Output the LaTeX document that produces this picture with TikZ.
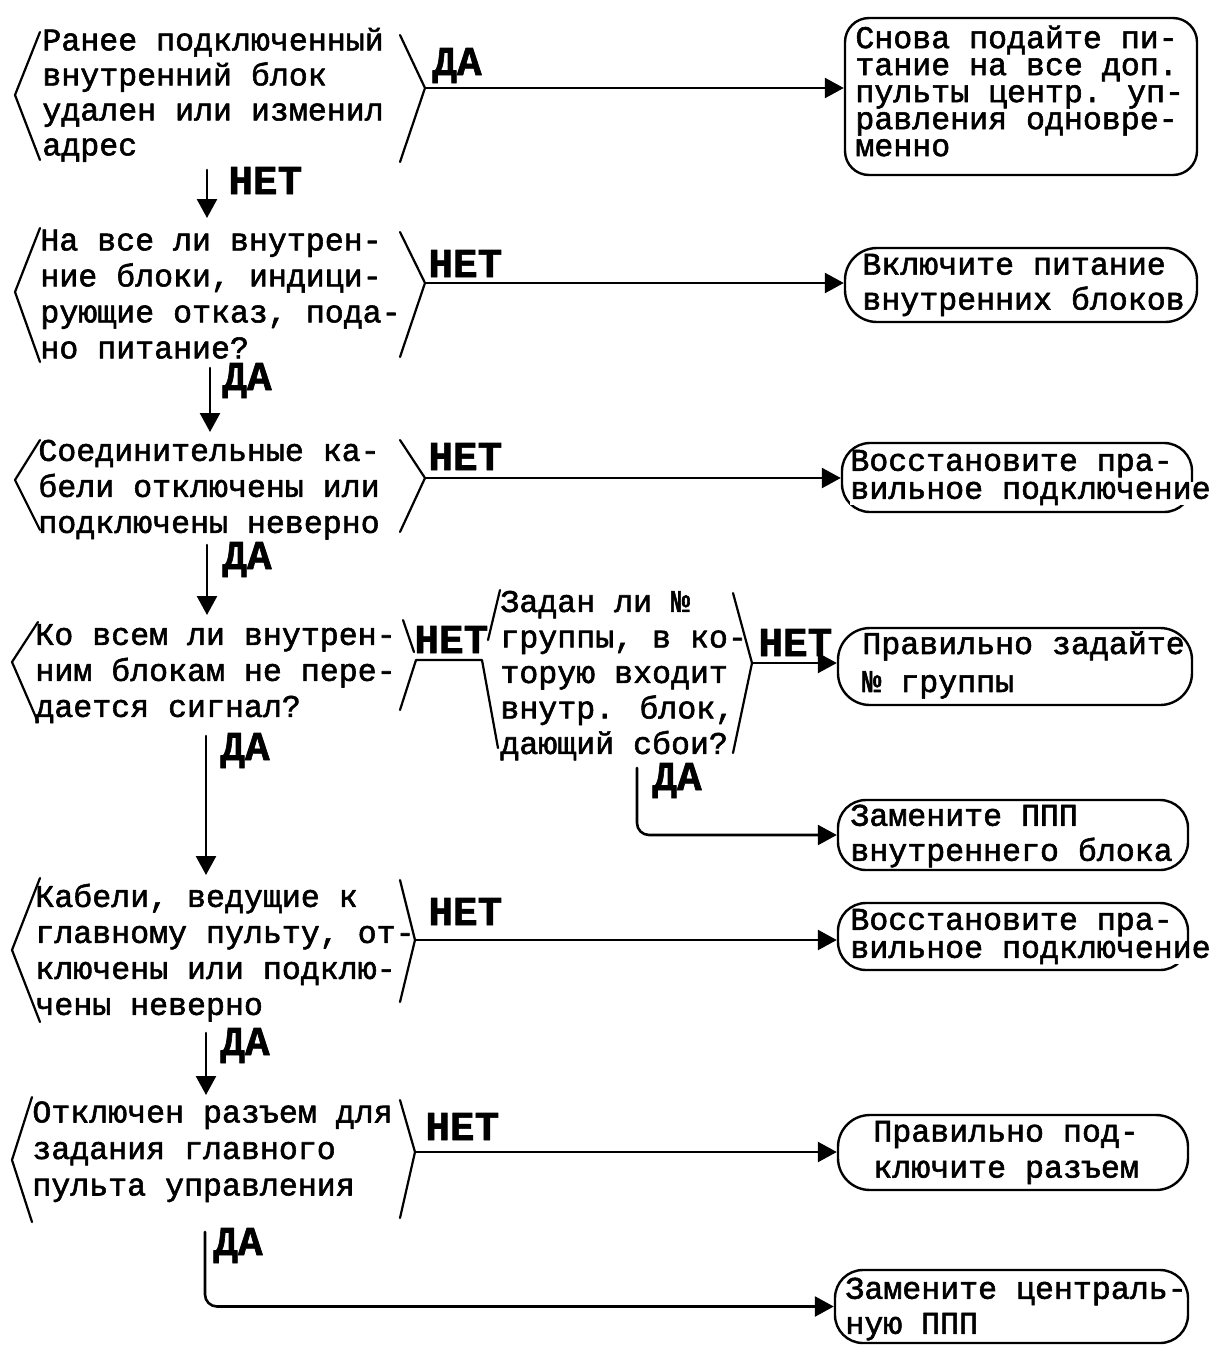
\documentclass[tikz,border=0pt]{standalone}
\usepackage{fontspec}
\setmainfont{Liberation Mono}
\newfontfamily\bodyfont{Liberation Mono}[FakeBold=1.8]
\newfontfamily\labfont{Liberation Mono}[BoldFeatures={FakeBold=1.5}]
\usetikzlibrary{arrows.meta}
\begin{document}
\begin{tikzpicture}[x=0.5pt,y=-0.5pt,
  line cap=round, line join=round,
  brk/.style={line width=1.1pt},
  con/.style={line width=1.3pt},
  arr/.style={con,-{Triangle[length=9.5pt,width=10pt]}},
  rbox/.style={draw, line width=1.2pt, rounded corners=#1, inner sep=0pt},
  dtext/.style={anchor=north west, inner sep=0pt, align=left, font=\bodyfont\fontsize{15.8pt}{#1}\selectfont},
  btext/.style={anchor=west, inner sep=0pt, align=left, font=\bodyfont\fontsize{15.8pt}{#1}\selectfont},
  lab/.style={anchor=base west, inner sep=0pt, font=\labfont\bfseries\fontsize{20.5pt}{22pt}\selectfont}
]
\useasboundingbox (0,0) rectangle (1222,1345);

% ---------------- decisions ----------------
\node[dtext=17.5pt] (d1) at (42,25.5) {\strut Ранее подключенный\\внутренний блок\\удален или изменил\\адрес};
\node[dtext=18pt] (d2) at (40,224.8) {\strut На все ли внутрен-\\ние блоки, индици-\\рующие отказ, пода-\\но питание?};
\node[dtext=18pt] (d3) at (38,435.3) {\strut Соединительные ка-\\бели отключены или\\подключены неверно};
\node[dtext=18pt] (d4) at (35,619.3) {\strut Ко всем ли внутрен-\\ним блокам не пере-\\дается сигнал?};
\node[dtext=17.75pt] (d5) at (500,586.7) {\strut Задан ли №\\группы, в ко-\\торую входит\\внутр. блок,\\дающий сбои?};
\node[dtext=18pt] (d6) at (35,881.3) {\strut Кабели, ведущие к\\главному пульту, от-\\ключены или подклю-\\чены неверно};
\node[dtext=18.25pt] (d7) at (32,1096.5) {\strut Отключен разъем для\\задания главного\\пульта управления};

% connection points
\coordinate (d1e) at (425,88);
\coordinate (d2e) at (425,283);
\coordinate (d3e) at (425,478);
\coordinate (d4e) at (416,660);
\coordinate (d5w) at (482,660);
\coordinate (d5e) at (752,663);
\coordinate (d6e) at (415,940);
\coordinate (d7e) at (415,1152);
\coordinate (d1s) at (207,170);  \coordinate (d2n) at (207,218);
\coordinate (d2s) at (210,368);  \coordinate (d3n) at (210,432);
\coordinate (d3s) at (207,545);  \coordinate (d4n) at (207,615);
\coordinate (d4s) at (206,736);  \coordinate (d6n) at (206,875);
\coordinate (d6s) at (206,1033); \coordinate (d7n) at (206,1095);
\coordinate (d5s) at (637,768);
\coordinate (d7s) at (205,1232);

% brackets
\draw[brk] (40,32) -- (15,95) -- (40,160);
\draw[brk] (400,35) -- (d1e) -- (400,162);
\draw[brk] (40,228) -- (15,292) -- (40,362);
\draw[brk] (400,232) -- (d2e) -- (400,357);
\draw[brk] (40,440) -- (15,480) -- (40,530);
\draw[brk] (400,440) -- (d3e) -- (400,532);
\draw[brk] (38,622) -- (12,662) -- (38,722);
\draw[brk] (403,620) -- (414,652);
\draw[brk] (400,710) -- (d4e) -- (d5w) -- (498,748);
\draw[brk] (488,640) -- (500,590);
\draw[brk] (733,593) -- (d5e) -- (733,753);
\draw[brk] (40,878) -- (12,950) -- (40,1022);
\draw[brk] (400,880) -- (d6e) -- (400,1002);
\draw[brk] (32,1097) -- (12,1160) -- (32,1222);
\draw[brk] (400,1100) -- (d7e) -- (400,1218);

% ---------------- result boxes ----------------
\node[rbox=12pt, minimum width=176pt, minimum height=78.5pt] (b1) at (1021,96.5) {};
\node[rbox=16pt, minimum width=176pt, minimum height=37pt] (b2) at (1021,285) {};
\node[rbox=14pt, minimum width=175pt, minimum height=34.5pt] (b3) at (1017,477.5) {};
\node[rbox=16pt, minimum width=177pt, minimum height=38.5pt] (b4) at (1015,666.5) {};
\node[rbox=14pt, minimum width=175pt, minimum height=35pt] (b5) at (1013,835) {};
\node[rbox=14pt, minimum width=175pt, minimum height=33.5pt] (b6) at (1013,936.5) {};
\node[rbox=16pt, minimum width=175pt, minimum height=37.5pt] (b7) at (1013,1152.5) {};
\node[rbox=14pt, minimum width=176.5pt, minimum height=36.5pt] (b8) at (1011.5,1306.5) {};

\node[btext=13.5pt] (t1) at (855,91) {Снова подайте пи-\\тание на все доп.\\пульты центр. уп-\\равления одновре-\\менно};
\node[btext=17.5pt] (t2) at (862,285) {Включите питание\\внутренних блоков};
\node[btext=14pt] (t3) at (850,477.5) {Восстановите пра-\\{\fboxsep=0pt\colorbox{white}{вильное подключение}}};
\node[btext=19pt] (t4) at (862,665) {Правильно задайте\\№ группы};
\node[btext=17.5pt] (t5) at (850,836) {Замените ППП\\внутреннего блока};
\node[btext=14pt] (t6) at (850,936.5) {Восстановите пра-\\{\fboxsep=0pt\colorbox{white}{вильное подключение}}};
\node[btext=18pt] (t7) at (873,1152.5) {Правильно под-\\ключите разъем};
\node[btext=17.5pt] (t8) at (845,1309) {Замените централь-\\ную ППП};

% ---------------- connectors ----------------
\draw[arr] (d1e) -- (d1e -| b1.west);
\draw[arr] (d2e) -- (d2e -| b2.west);
\draw[arr] (d3e) -- (d3e -| b3.west);
\draw[arr] (d5e) -- (d5e -| b4.west);
\draw[arr] (d6e) -- (d6e -| b6.west);
\draw[arr] (d7e) -- (d7e -| b7.west);
\draw[arr] (d1s) -- (d2n);
\draw[arr] (d2s) -- (d3n);
\draw[arr] (d3s) -- (d4n);
\draw[arr] (d4s) -- (d6n);
\draw[arr] (d6s) -- (d7n);
\draw[arr, rounded corners=6pt] (d5s) |- (b5.west);
\draw[arr, rounded corners=6pt] (d7s) |- (b8.west);

% ---------------- labels ----------------
\node[lab] (l1) at (432,75) {ДА};
\node[lab] (l2) at (228,194) {НЕТ};
\node[lab] (l3) at (428,277) {НЕТ};
\node[lab] (l4) at (222,390) {ДА};
\node[lab] (l5) at (428,470) {НЕТ};
\node[lab] (l6) at (222,569) {ДА};
\node[lab] (l7) at (414,653) {НЕТ};
\node[lab] (l8) at (758,656) {НЕТ};
\node[lab] (l9) at (220,760) {ДА};
\node[lab] (l10) at (652,790) {ДА};
\node[lab] (l11) at (428,925) {НЕТ};
\node[lab] (l12) at (220,1055) {ДА};
\node[lab] (l13) at (425,1140) {НЕТ};
\node[lab] (l14) at (213,1255) {ДА};
\end{tikzpicture}
\end{document}
